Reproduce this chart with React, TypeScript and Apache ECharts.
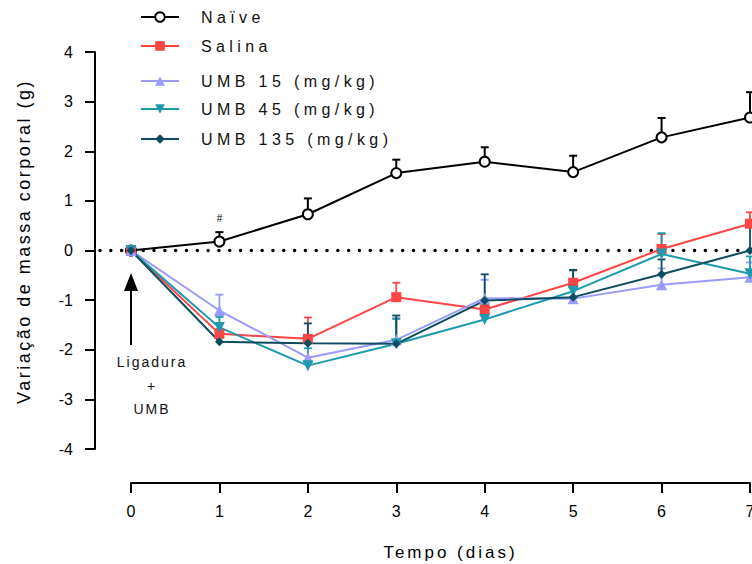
import React, { useEffect, useRef } from "react";
import * as echarts from "echarts";

// ---- data ----
const days = [0, 1, 2, 3, 4, 5, 6, 7];
const groupNames = ["Naïve", "Salina", "UMB 15 (mg/kg)", "UMB 45 (mg/kg)", "UMB 135 (mg/kg)"];
const naiveMean = [0, 0.18, 0.73, 1.56, 1.79, 1.58, 2.28, 2.68];
const naiveSem = [0, 0.19, 0.32, 0.27, 0.29, 0.33, 0.39, 0.51];
const salinaMean = [0, -1.68, -1.78, -0.94, -1.19, -0.65, 0.03, 0.54];
const salinaSem = [0, 0.1, 0.43, 0.29, 0.2, 0.25, 0.3, 0.23];
const umb15Mean = [0, -1.21, -2.16, -1.8, -0.96, -0.97, -0.69, -0.54];
const umb15Sem = [0, 0.32, 0.3, 0.44, 0.37, 0.3, 0.33, 0.3];
const umb45Mean = [0, -1.55, -2.32, -1.88, -1.39, -0.82, -0.07, -0.47];
const umb45Sem = [0, 0.21, 0.35, 0.5, 0.3, 0.42, 0.42, 0.35];
const umb135Mean = [0, -1.84, -1.87, -1.88, -1.01, -0.94, -0.48, 0.0];
const umb135Sem = [0, 0.19, 0.4, 0.57, 0.53, 0.55, 0.3, 0.5];
const yMin = -4;
const yMax = 4;
const xMax = 7;
const markedDay = 1; // "#" annotation
const xTitle = "Tempo (dias)";
const yTitle = "Variação de massa corporal (g)";
const noteLines = ["Ligadura", "+", "UMB"];

// ---- layout ----
const W = 752;
const H = 564;
const PLOT_LEFT = 95;
const ORIGIN_X = 131;
const PLOT_RIGHT = 750;
const PLOT_TOP = 52;
const PLOT_BOTTOM = 449;
const X_MIN = (-xMax * (ORIGIN_X - PLOT_LEFT)) / (PLOT_RIGHT - ORIGIN_X);
const FONT = "'Liberation Sans', Arial, Helvetica, sans-serif";
const legendCenters = [15, 44, 79, 107, 137];
const noteY = [362, 386, 409];

const colors = ["#000000", "#FF4444", "#9A9AFF", "#1C9AAE", "#0C4C5E"];
const symbols = ["circle", "rect", "triangle", "triangle", "diamond"];
const symbolSizes = [10, 10, 11, 11, 9];
const symbolRotates = [0, 0, 0, 180, 0];

const means = [naiveMean, salinaMean, umb15Mean, umb45Mean, umb135Mean];
const sems = [naiveSem, salinaSem, umb15Sem, umb45Sem, umb135Sem];

// letter spacing (px) applied to the rendered SVG texts, as in the reference
const spacing: Record<string, string> = {};
groupNames.forEach((n) => (spacing[n] = "4.4px"));
spacing[xTitle] = "3px";
spacing[yTitle] = "2.5px";
noteLines.forEach((n) => (spacing[n] = "2px"));

function errRender(color: string, width: number) {
  return (params: any, api: any) => {
    const x = api.value(0);
    const m = api.value(1);
    const e = api.value(2);
    if (!e) return null;
    const p0 = api.coord([x, m]);
    const p1 = api.coord([x, m + e]);
    const hw = 4;
    return {
      type: "group",
      children: [
        {
          type: "line",
          shape: { x1: p0[0], y1: p0[1], x2: p1[0], y2: p1[1] },
          style: { stroke: color, lineWidth: width },
        },
        {
          type: "line",
          shape: { x1: p1[0] - hw, y1: p1[1], x2: p1[0] + hw, y2: p1[1] },
          style: { stroke: color, lineWidth: width },
        },
      ],
    };
  };
}

export default function App() {
  const ref = useRef<HTMLDivElement>(null);
  useEffect(() => {
    if (!ref.current) return;
    const el = ref.current;
    const chart = echarts.init(el, undefined, { renderer: "svg" });

    const errSeries = groupNames.map((n, i) => ({
      type: "custom",
      name: n + " SEM",
      xAxisIndex: 0,
      yAxisIndex: 0,
      z: 1,
      silent: true,
      renderItem: errRender(colors[i], i === 0 ? 2 : 1.8),
      encode: { x: 0, y: 1 },
      data: days.map((d, k) => [d, means[i][k], sems[i][k]]),
    }));

    const lineSeries = groupNames.map((n, i) => ({
      type: "line",
      name: n,
      xAxisIndex: 0,
      yAxisIndex: 0,
      z: 3,
      symbol: symbols[i],
      symbolSize: symbolSizes[i],
      symbolRotate: symbolRotates[i],
      color: colors[i],
      lineStyle: { color: colors[i], width: 2 },
      itemStyle:
        i === 0
          ? { color: "#ffffff", borderColor: "#000000", borderWidth: 2 }
          : { color: colors[i] },
      data: days.map((d, k) => {
        const v = [d, means[i][k]];
        if (i === 0 && d === markedDay) {
          return {
            value: v,
            label: {
              show: true,
              formatter: "#",
              position: "top",
              distance: 12,
              fontSize: 10,
              color: "#000",
              fontFamily: FONT,
            },
          };
        }
        return v;
      }),
    }));

    const option: any = {
      animation: false,
      backgroundColor: "#ffffff",
      textStyle: { fontFamily: FONT },
      grid: [
        {
          left: PLOT_LEFT,
          right: W - PLOT_RIGHT,
          top: PLOT_TOP,
          bottom: H - PLOT_BOTTOM,
          containLabel: false,
          outerBoundsMode: "none",
        },
        {
          left: ORIGIN_X,
          right: W - PLOT_RIGHT,
          top: PLOT_TOP,
          bottom: H - PLOT_BOTTOM,
          containLabel: false,
          outerBoundsMode: "none",
        },
      ],
      xAxis: [
        {
          type: "value",
          gridIndex: 0,
          min: X_MIN,
          max: xMax,
          show: false,
        },
        {
          type: "value",
          gridIndex: 1,
          min: 0,
          max: xMax,
          interval: 1,
          position: "bottom",
          offset: 34,
          splitLine: { show: false },
          axisLine: { show: true, onZero: false, lineStyle: { color: "#000", width: 2 } },
          axisTick: { show: true, length: 10, lineStyle: { color: "#000", width: 2 } },
          axisLabel: { margin: 20, fontSize: 16, color: "#000", fontFamily: FONT },
          name: xTitle,
          nameLocation: "middle",
          nameGap: 61,
          nameTextStyle: { fontSize: 17, color: "#000", fontFamily: FONT, padding: [0, 0, 0, 20] },
        },
      ],
      yAxis: [
        {
          type: "value",
          gridIndex: 0,
          min: yMin,
          max: yMax,
          interval: 1,
          position: "left",
          splitLine: { show: false },
          axisLine: { show: true, onZero: false, lineStyle: { color: "#000", width: 2 } },
          axisTick: { show: true, length: 10, lineStyle: { color: "#000", width: 2 } },
          axisLabel: { margin: 22, fontSize: 16, color: "#000", fontFamily: FONT },
          name: yTitle,
          nameLocation: "middle",
          nameGap: 62,
          nameTextStyle: { fontSize: 18, color: "#000", fontFamily: FONT, padding: [0, 0, 0, 18] },
        },
        {
          type: "value",
          gridIndex: 1,
          min: yMin,
          max: yMax,
          show: false,
        },
      ],
      legend: groupNames.map((n, i) => ({
        data: [n],
        left: 140,
        top: legendCenters[i] - 6,
        orient: "horizontal",
        itemWidth: 38,
        itemHeight: 12,
        selectedMode: false,
        padding: 0,
        textStyle: { fontSize: 16, color: "#111", fontFamily: FONT, padding: [0, 0, 0, 17] },
      })),
      graphic: [
        {
          type: "line",
          shape: { x1: ORIGIN_X, y1: 345, x2: ORIGIN_X, y2: 288 },
          style: { stroke: "#000", lineWidth: 2 },
          silent: true,
        },
        {
          type: "polygon",
          shape: { points: [[ORIGIN_X - 7, 291], [ORIGIN_X + 7, 291], [ORIGIN_X, 273]] },
          style: { fill: "#000" },
          silent: true,
        },
        ...noteLines.map((t, i) => ({
          type: "text",
          x: 152,
          y: noteY[i],
          style: {
            text: t,
            fontSize: 14,
            fill: "#111",
            align: "center",
            verticalAlign: "middle",
            fontFamily: FONT,
          },
        })),
      ],
      series: [
        {
          type: "line",
          name: "zero",
          xAxisIndex: 0,
          yAxisIndex: 0,
          z: 0,
          silent: true,
          symbol: "none",
          data: [
            [X_MIN, 0],
            [xMax, 0],
          ],
          lineStyle: { color: "#000", width: 3.5, type: [0.01, 10.8], cap: "round", dashOffset: -5 },
        },
        ...errSeries,
        ...lineSeries,
      ],
    };
    chart.setOption(option);

    const applySpacing = () => {
      el.querySelectorAll("text").forEach((t) => {
        const s = spacing[(t.textContent || "").trim()];
        if (s) (t as SVGTextElement).style.letterSpacing = s;
      });
    };
    applySpacing();
    chart.on("finished", applySpacing);
    const raf = requestAnimationFrame(applySpacing);

    return () => {
      cancelAnimationFrame(raf);
      chart.dispose();
    };
  }, []);
  return (
    <div
      ref={ref}
      style={{ position: "absolute", left: 0, top: 0, width: W, height: H, background: "#fff" }}
    />
  );
}
